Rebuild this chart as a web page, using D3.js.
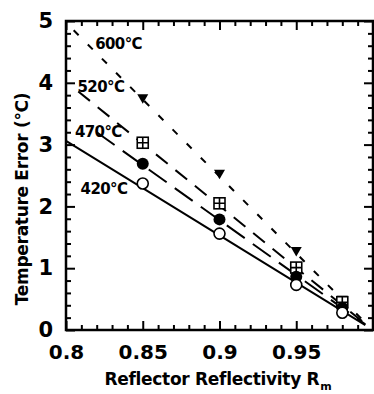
<!DOCTYPE html>
<html>
<head>
<meta charset="utf-8">
<script src="https://cdn.jsdelivr.net/npm/d3@7"></script>
<style>
  body { margin: 0; background: #fff; }
  svg { display: block; }
  text { font-family: "DejaVu Sans", sans-serif; font-weight: bold; fill: #000; }
</style>
</head>
<body>
<div id="chart"></div>
<script>
// reflector reflectivity values where the markers sit
const reflectivity = [0.85, 0.9, 0.95, 0.98];
const seriesNames = ['600°C', '520°C', '470°C', '420°C'];

// temperature error (°C)
const err600 = [3.74, 2.52, 1.27, 0.48];
const err520 = [3.03, 2.05, 1.01, 0.45];
const err470 = [2.69, 1.79, 0.86, 0.36];
const err420 = [2.37, 1.56, 0.73, 0.28];

// fitted lines: [start, end] as [Rm, error]
const fit600 = [[0.805, 4.85], [0.995, 0.12]];
const fit520 = [[0.808, 3.86], [0.995, 0.1]];
const fit470 = [[0.82, 3.2], [0.995, 0.09]];
const fit420 = [[0.8, 3.06], [0.995, 0.08]];

// where the temperature labels sit, [Rm, error]
const labelPos = [[0.819, 4.55], [0.8075, 3.85], [0.8058, 3.13], [0.8095, 2.2]];

const xMajor = [0.8, 0.85, 0.9, 0.95, 1.0];
const yMajor = [0, 1, 2, 3, 4, 5];

const W = 374, H = 394;
const box = { left: 66, top: 21, right: 373, bottom: 330 };

const svg = d3.select('#chart').append('svg')
  .attr('width', W).attr('height', H);

const x = d3.scaleLinear().domain([0.8, 1.0]).range([box.left, box.right]);
const y = d3.scaleLinear().domain([0, 5]).range([box.bottom, box.top]);

const xMinor = d3.range(80, 101).map(v => v / 100).filter(v => !xMajor.some(m => Math.abs(m - v) < 1e-9));
const yMinor = d3.range(0, 26).map(v => v / 5).filter(v => !yMajor.includes(v));

// frame
svg.append('rect')
  .attr('x', box.left).attr('y', box.top)
  .attr('width', box.right - box.left).attr('height', box.bottom - box.top)
  .attr('fill', 'none').attr('stroke', '#000').attr('stroke-width', 2.5);

function styleAxis(g) {
  g.select('.domain').remove();
  g.selectAll('line').attr('stroke', '#000').attr('stroke-width', 2);
}

const fmtX = d => (d >= 0.999 ? '' : String(d));

svg.append('g').attr('transform', `translate(0,${box.bottom})`)
  .call(d3.axisBottom(x).tickValues(xMajor).tickSizeInner(-9).tickSizeOuter(0).tickPadding(15).tickFormat(fmtX))
  .call(styleAxis)
  .selectAll('text').style('font-size', '20px');
svg.append('g').attr('transform', `translate(0,${box.bottom})`)
  .call(d3.axisBottom(x).tickValues(xMinor).tickSizeInner(-5).tickSizeOuter(0).tickFormat(''))
  .call(styleAxis);

svg.append('g').attr('transform', `translate(0,${box.top})`)
  .call(d3.axisTop(x).tickValues(xMajor).tickSizeInner(-9).tickSizeOuter(0).tickFormat(''))
  .call(styleAxis);
svg.append('g').attr('transform', `translate(0,${box.top})`)
  .call(d3.axisTop(x).tickValues(xMinor).tickSizeInner(-5).tickSizeOuter(0).tickFormat(''))
  .call(styleAxis);

svg.append('g').attr('transform', `translate(${box.left},0)`)
  .call(d3.axisLeft(y).tickValues(yMajor).tickSizeInner(-9).tickSizeOuter(0).tickPadding(13).tickFormat(d3.format('d')))
  .call(styleAxis)
  .selectAll('text').style('font-size', '21px');
svg.append('g').attr('transform', `translate(${box.left},0)`)
  .call(d3.axisLeft(y).tickValues(yMinor).tickSizeInner(-5).tickSizeOuter(0).tickFormat(''))
  .call(styleAxis);

svg.append('g').attr('transform', `translate(${box.right},0)`)
  .call(d3.axisRight(y).tickValues(yMajor).tickSizeInner(-9).tickSizeOuter(0).tickFormat(''))
  .call(styleAxis);
svg.append('g').attr('transform', `translate(${box.right},0)`)
  .call(d3.axisRight(y).tickValues(yMinor).tickSizeInner(-5).tickSizeOuter(0).tickFormat(''))
  .call(styleAxis);

// lines
const series = [
  { name: seriesNames[0], vals: err600, fit: fit600, dash: '7,13', marker: 'tri' },
  { name: seriesNames[1], vals: err520, fit: fit520, dash: '15,10', marker: 'sqx' },
  { name: seriesNames[2], vals: err470, fit: fit470, dash: '22,10', marker: 'dot' },
  { name: seriesNames[3], vals: err420, fit: fit420, dash: null, marker: 'ring' }
];

const line = d3.line().x(d => x(d[0])).y(d => y(d[1]));

svg.append('g').selectAll('path')
  .data(series)
  .join('path')
  .attr('d', d => line(d.fit))
  .attr('fill', 'none')
  .attr('stroke', '#000')
  .attr('stroke-width', 2)
  .attr('stroke-dasharray', d => d.dash);

// markers
series.forEach(s => {
  const g = svg.append('g');
  s.vals.forEach((v, i) => {
    const cx = x(reflectivity[i]), cy = y(v);
    if (s.marker === 'tri') {
      g.append('path')
        .attr('d', `M${cx - 5.5},${cy - 4.5}L${cx + 5.5},${cy - 4.5}L${cx},${cy + 5}Z`)
        .attr('fill', '#000');
    } else if (s.marker === 'sqx') {
      g.append('rect').attr('x', cx - 5.5).attr('y', cy - 5.5).attr('width', 11).attr('height', 11)
        .attr('fill', '#fff').attr('stroke', '#000').attr('stroke-width', 1.6);
      g.append('path').attr('d', `M${cx - 5.5},${cy}H${cx + 5.5}M${cx},${cy - 5.5}V${cy + 5.5}`)
        .attr('stroke', '#000').attr('stroke-width', 1.6);
    } else if (s.marker === 'dot') {
      g.append('circle').attr('cx', cx).attr('cy', cy).attr('r', 6).attr('fill', '#000');
    } else {
      g.append('circle').attr('cx', cx).attr('cy', cy).attr('r', 5.5)
        .attr('fill', '#fff').attr('stroke', '#000').attr('stroke-width', 1.6);
    }
  });
});

// temperature labels
svg.append('g').selectAll('text')
  .data(series)
  .join('text')
  .attr('x', (d, i) => x(labelPos[i][0]))
  .attr('y', (d, i) => y(labelPos[i][1]))
  .attr('font-size', 15)
  .attr('letter-spacing', -0.6)
  .text(d => d.name);

// axis titles
const xt = svg.append('text')
  .attr('x', 218).attr('y', 385)
  .attr('text-anchor', 'middle')
  .attr('font-size', 17)
  .attr('letter-spacing', -0.3);
xt.append('tspan').text('Reflector Reflectivity R');
xt.append('tspan').attr('dx', 1).attr('dy', 5).attr('font-size', 11).text('m');

svg.append('text')
  .attr('transform', 'translate(28,199) rotate(-90)')
  .attr('text-anchor', 'middle')
  .attr('font-size', 17)
  .attr('letter-spacing', -0.3)
  .text('Temperature Error (°C)');
</script>
</body>
</html>
